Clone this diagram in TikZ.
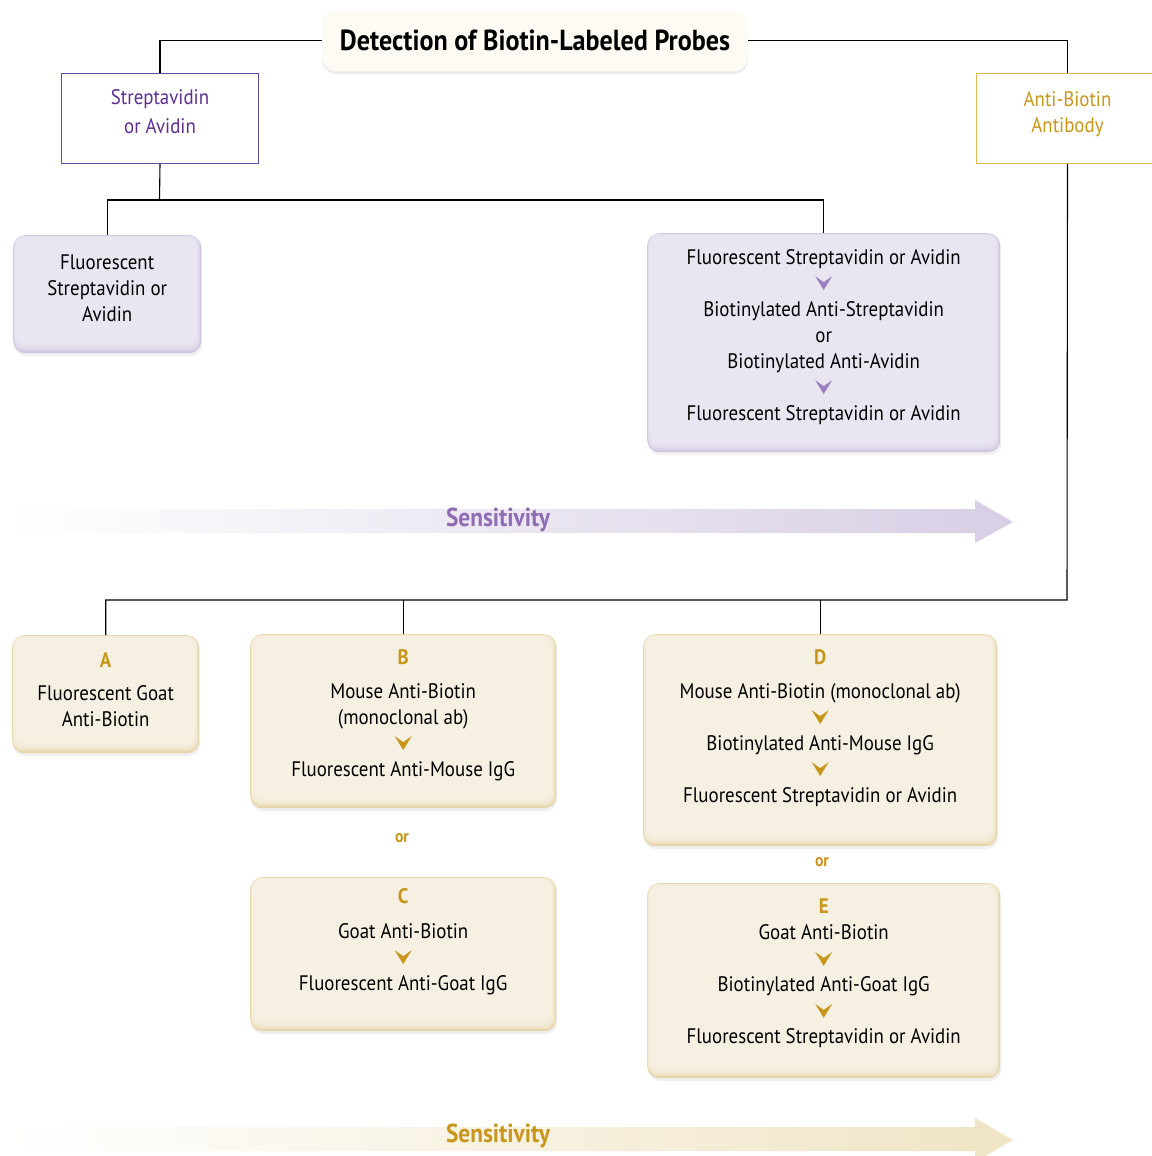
\documentclass[tikz,border=0pt]{standalone}
\usepackage{fontspec}
\setmainfont{PT Sans}[FakeStretch=0.9]
\usetikzlibrary{shadows}

\definecolor{stvText}{HTML}{5E2E91}
\definecolor{stvLine}{HTML}{6A4A9F}
\definecolor{lavFill}{HTML}{ECE8F3}
\definecolor{lavEdge}{HTML}{CFC5E1}
\definecolor{lavChev}{HTML}{9A82BF}
\definecolor{lavArrow}{HTML}{D8CEE5}
\definecolor{lavSens}{HTML}{8E6DB5}
\definecolor{goldText}{HTML}{C8961A}
\definecolor{goldLine}{HTML}{DDB650}
\definecolor{crmFill}{HTML}{F8F2E5}
\definecolor{crmEdge}{HTML}{E6D5A8}
\definecolor{goldArrow}{HTML}{F0E4C5}
\definecolor{ttlFill}{HTML}{FDFBF4}

% small down chevron between steps
\newcommand\dnchev[1]{\tikz[baseline=-14pt]\fill[#1] (0pt,0pt) -- (8.5pt,-6pt) -- (17pt,0pt) -- (8.5pt,-14pt) -- cycle;}

\tikzset{
  txt/.style={inner sep=0pt, align=center, font=\fontsize{21}{26}\selectfont},
  softbox/.style 2 args={rounded corners=12pt, fill=#2, inner sep=0pt,
    drop shadow={opacity=.12, shadow xshift=1pt, shadow yshift=-3pt},
    path picture={
      \foreach \d in {1,...,7}
        \fill[#1, opacity=.42, rounded corners=10pt]
          ([shift={(\d*0.5pt,-\d*0.4pt)}]path picture bounding box.north west)
          rectangle ([shift={(-\d*1pt,\d*2pt)}]path picture bounding box.south east);}},
  lavbox/.style={softbox={lavFill}{lavEdge}},
  crmbox/.style={softbox={crmFill}{crmEdge}},
  headbox/.style={draw=#1, line width=1pt, fill=white, inner sep=0pt, minimum height=90pt},
  letter/.style={font=\fontsize{21}{26}\selectfont\bfseries, text=goldText},
  orword/.style={font=\fontsize{17.5}{20}\selectfont\bfseries, text=goldText},
  sens/.style={font=\fontsize{26}{28}\selectfont\bfseries},
  link/.style={line width=1.1pt}
}

\begin{document}
\begin{tikzpicture}[x=1pt,y=-1pt]
\useasboundingbox (0,0) rectangle (1151,1156);

% sensitivity arrows
\shade[left color=white, right color=lavArrow] (8,509) -- (975,509) -- (975,500) -- (1013,522)
  -- (975,543) -- (975,533) -- (8,533) -- cycle;
\node[sens, text=lavSens] (sensP) at (498,520) {Sensitivity};
\shade[left color=white, right color=goldArrow] (8,1127) -- (975,1127) -- (975,1118) -- (1013,1140)
  -- (975,1162) -- (975,1151) -- (8,1151) -- cycle;
\node[sens, text=goldText] (sensG) at (498,1136) {Sensitivity};

% title
\node[rounded corners=14pt, fill=ttlFill, minimum width=426pt, minimum height=61pt,
  drop shadow={opacity=.15, shadow xshift=0pt, shadow yshift=-3pt},
  font=\fontsize{29}{32}\selectfont\bfseries] (title) at (535,40.5) {Detection of Biotin-Labeled Probes};

% the two reagents
\node[headbox=stvLine, minimum width=197pt, anchor=north west] (strept) at (61,73) {};
\node[txt, text=stvText, font=\fontsize{21}{29}\selectfont] (tS) at ([yshift=6.5pt]strept.center) {Streptavidin\\or Avidin};
\node[headbox=goldLine, minimum width=182pt, anchor=north west] (antib) at (976,73) {};
\node[txt, text=goldText] (tAb) at ([yshift=4pt]antib.center) {Anti-Biotin\\Antibody};

% streptavidin / avidin branch
\node[lavbox, minimum width=188pt, minimum height=118pt, anchor=north west] (lavL) at (13,235) {};
\node[txt, anchor=north] (tL) at ([yshift=-20pt]lavL.north) {Fluorescent\\Streptavidin or\\Avidin};
\node[lavbox, minimum width=353pt, minimum height=219pt, anchor=north west] (lavR) at (647,233) {};
\node[txt, anchor=north] (tR) at ([yshift=-16pt]lavR.north) {Fluorescent Streptavidin or Avidin\\
  \dnchev{lavChev}\\Biotinylated Anti-Streptavidin\\or\\Biotinylated Anti-Avidin\\
  \dnchev{lavChev}\\Fluorescent Streptavidin or Avidin};

% anti-biotin branch
\node[crmbox, minimum width=187pt, minimum height=118pt, anchor=north west] (boxA) at (12,635) {};
\node[txt, anchor=north] (tA) at ([yshift=-17pt]boxA.north) {\textcolor{goldText}{\bfseries A}\\[7pt]
  Fluorescent Goat\\Anti-Biotin};
\node[crmbox, minimum width=306pt, minimum height=174pt, anchor=north west] (boxB) at (250,634) {};
\node[txt, anchor=north] (tB) at ([yshift=-15pt]boxB.north) {\textcolor{goldText}{\bfseries B}\\[8pt]
  Mouse Anti-Biotin\\(monoclonal ab)\\\dnchev{goldText}\\Fluorescent Anti-Mouse IgG};
\node[orword] (orBC) at (402,838) {or};
\node[crmbox, minimum width=306pt, minimum height=154pt, anchor=north west] (boxC) at (250,877) {};
\node[txt, anchor=north] (tC) at ([yshift=-11pt]boxC.north) {\textcolor{goldText}{\bfseries C}\\[9pt]
  Goat Anti-Biotin\\\dnchev{goldText}\\Fluorescent Anti-Goat IgG};
\node[crmbox, minimum width=354pt, minimum height=212pt, anchor=north west] (boxD) at (643,634) {};
\node[txt, anchor=north] (tD) at ([yshift=-15pt]boxD.north) {\textcolor{goldText}{\bfseries D}\\[8pt]
  Mouse Anti-Biotin (monoclonal ab)\\\dnchev{goldText}\\Biotinylated Anti-Mouse IgG\\
  \dnchev{goldText}\\Fluorescent Streptavidin or Avidin};
\node[orword] (orDE) at (822,862) {or};
\node[crmbox, minimum width=353pt, minimum height=195pt, anchor=north west] (boxE) at (647,883) {};
\node[txt, anchor=north] (tE) at ([yshift=-16pt]boxE.north) {\textcolor{goldText}{\bfseries E}\\
  Goat Anti-Biotin\\\dnchev{goldText}\\Biotinylated Anti-Goat IgG\\
  \dnchev{goldText}\\Fluorescent Streptavidin or Avidin};

% connectors
\coordinate (sjoin) at (159.5,200);
\coordinate (ajoin) at (1067,600);
\draw[link] (title.west) -| (strept.north);
\draw[link] (title.east) -| (antib.north);
\draw[link] (strept.south) -- (sjoin);
\draw[link] (lavL.north) |- (sjoin) -| (lavR.north);
\draw[link] (antib.south) -- (ajoin) -| (boxA.north);
\draw[link] (boxB.north) -- (boxB.north |- ajoin);
\draw[link] (boxD.north) -- (boxD.north |- ajoin);
\end{tikzpicture}
\end{document}
